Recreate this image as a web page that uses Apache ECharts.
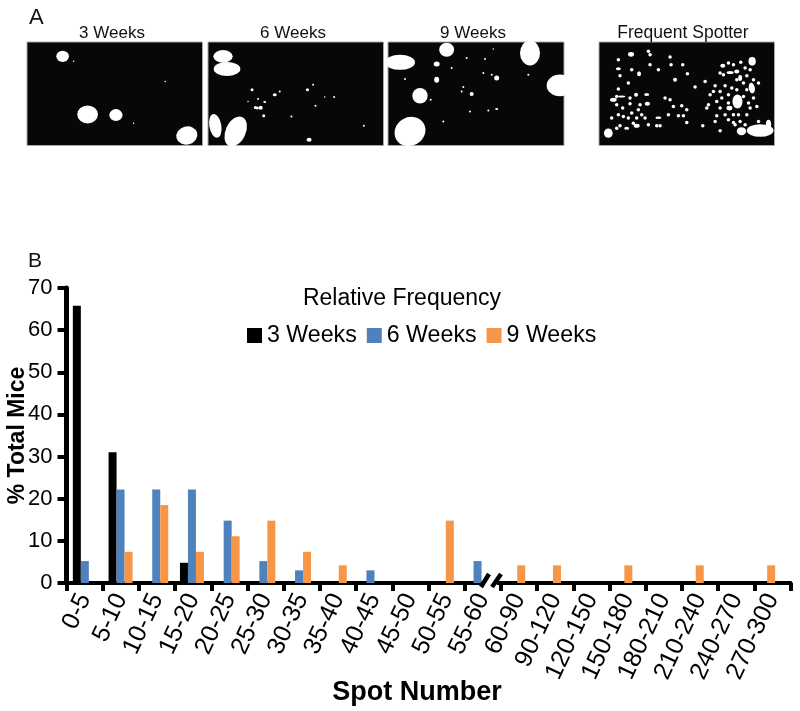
<!DOCTYPE html>
<html><head><meta charset="utf-8">
<style>html,body{margin:0;padding:0;background:#fff}#c{width:800px;height:711px}</style>
<script src="https://cdn.jsdelivr.net/npm/echarts@6/dist/echarts.min.js"></script>
</head><body><div id="c"></div>
<script>
const categories=['0-5','5-10','10-15','15-20','20-25','25-30','30-35','35-40','40-45','45-50','50-55','55-60','60-90','90-120','120-150','150-180','180-210','210-240','240-270','270-300'];
const weeks3=[65.8,31,0,4.8,0,0,0,0,0,0,0,0,0,0,0,0,0,0,0,0];
const weeks6=[5.2,22.2,22.2,22.2,14.8,5.2,3,0,3,0,0,5.2,0,0,0,0,0,0,0,0];
const weeks9=[0,7.4,18.5,7.4,11.1,14.8,7.4,4.2,0,0,14.8,0,4.2,4.2,0,4.2,0,4.2,0,4.2];
const yTicks=[0,10,20,30,40,50,60,70];
// micrograph spots: [x, y, width, height, rotation] in picture coordinates
const spots3=[[187,170,38,34],[262,344,62,54],[347,346,40,36],[560,407,64,54,15]].map(s=>[s[0],s[1],s[2]/3,s[3]/3,s[4]||0]);
const specks3=[[220,185,1.5,1.5],[400,370,1.5,1.5],[495,245,1.5,1.5]];
const spots6=[[670,170,58,38],[682,208,80,42],[647,378,36,72,10],[708,395,60,95,-25]].map(s=>[s[0],s[1],s[2]/3,s[3]/3,s[4]||0]);
const specks6=[[757,270,3,3],[825,285,4,3],[840,275,2,2],[775,298,2,2],[795,307,3,2],[767,323,3,3],[783,324,4,4],[773,325,3,3],[792,348,3,3],[923,270,3,3],[947,318,2,2],[928,420,5,4],[1003,292,2,2],[1092,378,2,2],[875,350,2,2],[940,255,2,2],[975,292,1.5,1.5],[745,305,1.5,1.5]];
const spots9=[[0,188,90,45],[140,150,45,42],[390,160,60,75],[480,257,80,65],[60,288,46,46],[30,395,95,85,30]].map(s=>[s[0],s[1],s[2]/3,s[3]/3,s[4]||0]);
const specks9=[[110,193,6,5],[110,240,5,6],[290,235,5,5],[215,283,4,4],[185,275,2,2],[190,262,2,2],[250,220,2,2],[275,225,2,2],[290,328,3,2],[265,332,2,2],[210,335,2,2],[255,178,2,2],[130,365,2,2],[15,238,2,2],[92,300,2,2],[385,225,2,2],[280,148,1.5,1.5],[200,175,2,2],[155,205,2,2]];
const spotsF=[[1056,185,22,26],[1012,305,30,42],[1055,265,18,32,10],[1024,394,28,24],[1080,392,80,38],[1105,375,16,30],[625,400,26,28],[693,164,18,14],[988,325,18,14],[640,300,20,12],[742,312,16,12],[775,354,18,8]].map(s=>[s[0],s[1],s[2]/3,s[3]/3,s[4]||0]);
const specksF=[[745,155],[750,165],[810,172],[655,180],[655,207,5,3],[695,210],[717,222,4,5],[660,228],[775,210],[813,195],[848,195],[750,195],[825,240,4,4],[862,222],[685,250],[655,268],[885,262],[665,290,7,2],[708,285,4,4],[740,284,5,3],[650,315],[668,325],[690,312],[720,315],[715,330],[695,340],[685,355],[655,345],[635,355],[670,350],[710,355],[735,355],[795,295],[810,300],[820,320],[845,318],[860,330],[805,345],[835,348],[850,348],[860,368],[745,375],[710,378,6,4],[680,385,5,3],[650,385],[660,378],[700,370],[770,378],[780,378],[725,345],[650,290],[690,295],[908,378],[915,245],[968,198,5,4],[985,190],[1000,195],[1022,188],[1050,210],[1035,205],[990,218,7,3],[1010,215,5,4],[960,220],[970,225],[1020,235,4,6],[1040,228],[1060,240],[1030,250],[1010,240],[975,258],[995,265],[945,258],[940,275],[930,285],[960,275],[985,285],[1010,270],[1040,270],[1030,290],[1060,295],[965,295],[950,305],[925,315],[985,310],[1045,310],[1050,325],[920,325],[960,325],[1070,320],[1000,345],[950,348],[975,345],[1040,345],[1015,345],[985,360],[1000,368],[945,365],[1020,365],[1035,375],[960,393],[1005,375],[1075,365],[1075,250]].map(s=>[s[0],s[1],s[2]||3.5,s[3]||3.5,0]);

const font='"Liberation Sans",Arial,sans-serif';
const panels=[
 {left:27,w:175.5,x0:80,x1:607,d:spots3.concat(specks3),t:'3 Weeks',cx:107},
 {left:208,w:175.5,x0:625,x1:1151,d:spots6.concat(specks6),t:'6 Weeks',cx:288},
 {left:388,w:176,x0:-36,x1:492,d:spots9.concat(specks9),t:'9 Weeks',cx:468},
 {left:599,w:175.5,x0:597,x1:1123,d:spotsF.concat(specksF),t:'Frequent Spotter',cx:678}
];
const grids=[
 {left:66.5,width:724,top:288,height:295,outerBoundsMode:'none'},
 {left:67,width:714,top:288,height:295,outerBoundsMode:'none'}
];
const xAxes=[
 {gridIndex:0,type:'category',data:categories,
  axisLine:{onZero:false,lineStyle:{color:'#000',width:4}},
  axisTick:{show:true,length:8,lineStyle:{color:'#000',width:4}},
  axisLabel:{color:'#000',fontFamily:font,fontSize:25,rotate:65,margin:12,interval:0}},
 {gridIndex:1,type:'category',data:categories,show:false}
];
const yAxes=[
 {gridIndex:0,type:'value',min:0,max:70,interval:10,
  splitLine:{show:false},
  axisLine:{show:true,onZero:false,lineStyle:{color:'#000',width:5}},
  axisTick:{show:true,length:9,lineStyle:{color:'#000',width:4}},
  axisLabel:{color:'#000',fontFamily:font,fontSize:22,margin:14,formatter:v=>yTicks.includes(v)?String(v):''},
  name:'% Total Mice',nameLocation:'middle',nameGap:37,nameMoveOverlap:false,
  nameTextStyle:{color:'#000',fontFamily:font,fontSize:23,fontWeight:'bold'}},
 {gridIndex:1,type:'value',min:0,max:70,interval:10,show:false}
];
const series=[
 {name:'3 Weeks',data:weeks3,color:'#000000'},
 {name:'6 Weeks',data:weeks6,color:'#4F81BD'},
 {name:'9 Weeks',data:weeks9,color:'#F79646'}
].map(s=>({type:'bar',name:s.name,data:s.data,xAxisIndex:1,yAxisIndex:1,barWidth:8,barGap:0,itemStyle:{color:s.color},silent:true}));
panels.forEach((p,i)=>{
 const k=i+2;
 grids.push({left:p.left,width:p.w,top:42,height:103.5,show:true,backgroundColor:'#070707',borderColor:'#a8a8a8',borderWidth:1,outerBoundsMode:'none'});
 xAxes.push({gridIndex:k,type:'value',min:p.x0,max:p.x1,show:false});
 yAxes.push({gridIndex:k,type:'value',min:127,max:437,inverse:true,show:false});
 series.push({type:'scatter',name:p.t+' image',xAxisIndex:k,yAxisIndex:k,data:p.d,clip:true,silent:true,
  symbol:'circle',symbolSize:v=>[v[2],v[3]],symbolRotate:v=>v[4]||0,itemStyle:{color:'#fff',opacity:1}});
});
const titles=panels.map(p=>({text:p.t,left:p.cx,top:p.t==='Frequent Spotter'?19:20,textAlign:'center',
  textStyle:{color:'#111',fontFamily:font,fontSize:p.t==='Frequent Spotter'?17.5:17,fontWeight:'normal'}}));
titles.push({text:'A',left:24,top:2,textStyle:{color:'#111',fontFamily:font,fontSize:22,fontWeight:'normal'}});
titles.push({text:'B',left:23,top:246,textStyle:{color:'#111',fontFamily:font,fontSize:21,fontWeight:'normal'}});
titles.push({text:'Relative Frequency',left:397,top:282,textAlign:'center',textStyle:{color:'#000',fontFamily:font,fontSize:23,fontWeight:'normal'}});
titles.push({text:'Spot Number',left:412,top:674,textAlign:'center',textStyle:{color:'#000',fontFamily:font,fontSize:27,fontWeight:'bold'}});
const chart=echarts.init(document.getElementById('c'),null,{renderer:'canvas'});
chart.setOption({
 animation:false,backgroundColor:'#fff',
 title:titles,
 legend:{data:['3 Weeks','6 Weeks','9 Weeks'],left:247,top:324,itemWidth:15,itemHeight:15,itemGap:10,icon:'rect',selectedMode:false,padding:0,
  textStyle:{color:'#000',fontFamily:font,fontSize:23.2}},
 grid:grids,xAxis:xAxes,yAxis:yAxes,series,
 graphic:[
  {type:'rect',shape:{x:484,y:578,width:13,height:10},style:{fill:'#fff'},z:50},
  {type:'line',shape:{x1:481,y1:587,x2:489,y2:574},style:{stroke:'#000',lineWidth:4.5},z:51},
  {type:'line',shape:{x1:492,y1:587,x2:501,y2:574},style:{stroke:'#000',lineWidth:4.5},z:51}
 ]
});
</script></body></html>
